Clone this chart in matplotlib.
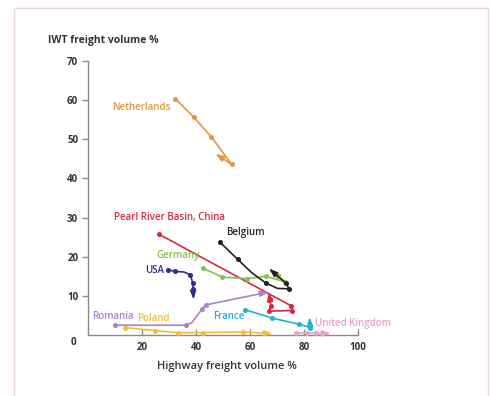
import matplotlib
matplotlib.use("Agg")
import matplotlib.pyplot as plt
from matplotlib.patches import Rectangle

plt.rcParams['font.family'] = ['Open Sans', 'DejaVu Sans']

# ---- data (x = highway freight volume %, y = IWT freight volume %) ----
nl_x = [32.3, 39.1, 45.7, 53.2]
nl_y = [60.4, 55.7, 50.6, 43.6]
nl_arrow = (47.2, 46.3)

cn_x = [26.4, 75.1, 75.7, 67.0, 67.7, 67.3]
cn_y = [25.7, 7.5, 6.25, 6.1, 7.5, 9.2]
cn_arrow = (67.0, 10.9)

be_x = [48.8, 55.5, 60.5, 65.8, 70.2, 74.5, 73.2]
be_y = [23.75, 19.3, 16.0, 13.3, 11.9, 11.8, 13.3]
be_marks = [0, 1, 3, 5, 6]
be_arrow = (67.0, 17.0)

de_x = [42.5, 49.7, 59.0, 65.8, 73.0]
de_y = [17.1, 14.8, 14.4, 15.0, 13.6]
de_arrow = (68.0, 16.3)

us_x = [29.5, 32.3, 35.5, 37.9, 38.8, 38.9]
us_y = [16.7, 16.25, 16.1, 15.4, 13.3, 11.7]
us_marks = [0, 1, 3, 4, 5]
us_arrow = (39.1, 9.0)

ro_x = [10.0, 36.4, 38.5, 40.5, 42.3, 43.7]
ro_y = [2.5, 2.5, 3.2, 5.0, 6.7, 7.7]
ro_marks = [0, 1, 4, 5]
ro_arrow = (67.0, 11.0)

pl_x = [13.8, 24.9, 33.2, 42.6, 57.5]
pl_y = [1.9, 1.1, 0.6, 0.6, 0.8]
pl_arrow = (68.5, 0.3)

fr_x = [58.0, 68.3, 78.2, 82.3]
fr_y = [6.5, 4.3, 2.75, 1.9]
fr_arrow = (82.0, 4.6)

uk_x = [77.0, 81.0, 84.5]
uk_y = [0.4, 0.4, 0.4]
uk_arrow = (90.0, 0.4)

x_ticks = [20, 40, 60, 80, 100]
y_ticks = [10, 20, 30, 40, 50, 60, 70]

# ---- colours ----
c_nl = '#E5953F'
c_cn = '#D9293F'
c_be = '#222222'
c_de = '#82C14E'
c_us = '#2E2F8E'
c_ro = '#A883C8'
c_pl = '#F3BC33'
c_fr = '#20B1CF'
c_uk = '#EA9FCB'
axis_col = '#8a8a8a'
txt_col = '#333333'

fig = plt.figure(figsize=(4.92, 3.96), dpi=100)
fig.patches.append(Rectangle((14/492, -0.05), (488-14)/492, 1.05 - 8/396,
                             transform=fig.transFigure, fill=False,
                             edgecolor='#ecd6d6', linewidth=1.0))
ax = fig.add_axes([88/492, (396-335)/396, 270/492, 274/396])
ax.set_xlim(0, 100)
ax.set_ylim(0, 70)
ax.patch.set_alpha(0)

for s in ['top', 'right']:
    ax.spines[s].set_visible(False)
for s in ['left', 'bottom']:
    ax.spines[s].set_color(axis_col)
    ax.spines[s].set_linewidth(1.0)

ax.set_xticks(x_ticks)
ax.set_yticks(y_ticks)
ax.tick_params(axis='x', direction='in', length=4, width=1, color=axis_col,
               labelsize=7, labelcolor=txt_col, pad=5)
ax.tick_params(axis='y', direction='out', length=4, width=1, color=axis_col,
               labelsize=7, labelcolor=txt_col, pad=3)
for lab in ax.get_xticklabels() + ax.get_yticklabels():
    lab.set_fontweight('bold')
ax.text(-4.5, -2.0, '0', ha='right', va='center', fontsize=7,
        fontweight='bold', color=txt_col, clip_on=False)


def series(xs, ys, col, arrow, marks=None):
    ax.plot(xs, ys, color=col, lw=1.2, marker='o', ms=2.6,
            markevery=marks, clip_on=False, zorder=3)
    ax.annotate('', xy=arrow, xytext=(xs[-1], ys[-1]),
                arrowprops=dict(arrowstyle='-|>,head_length=0.5,head_width=0.17',
                                color=col, lw=1.2, shrinkA=0, shrinkB=0),
                annotation_clip=False, zorder=4)


series(nl_x, nl_y, c_nl, nl_arrow)
series(ro_x, ro_y, c_ro, ro_arrow, ro_marks)
series(pl_x, pl_y, c_pl, pl_arrow)
series(uk_x, uk_y, c_uk, uk_arrow)
series(fr_x, fr_y, c_fr, fr_arrow)
series(cn_x, cn_y, c_cn, cn_arrow)
series(de_x, de_y, c_de, de_arrow)
series(be_x, be_y, c_be, be_arrow, be_marks)
series(us_x, us_y, c_us, us_arrow, us_marks)

lab_kw = dict(fontsize=7, fontweight='semibold')
ax.text(30.5, 58.0, 'Netherlands', color=c_nl, ha='right', va='center', **lab_kw)
ax.text(9.5, 30.0, 'Pearl River Basin, China', color=c_cn, ha='left', va='center', **lab_kw)
ax.text(51.0, 26.2, 'Belgium', color=c_be, ha='left', va='center', **lab_kw)
ax.text(25.5, 20.2, 'Germany', color=c_de, ha='left', va='center', **lab_kw)
ax.text(21.0, 16.5, 'USA', color=c_us, ha='left', va='center', **lab_kw)
ax.text(1.5, 4.8, 'Romania', color=c_ro, ha='left', va='center', **lab_kw)
ax.text(18.3, 4.3, 'Poland', color=c_pl, ha='left', va='center', **lab_kw)
ax.text(46.5, 4.8, 'France', color=c_fr, ha='left', va='center', **lab_kw)
ax.text(84.0, 3.0, 'United Kingdom', color=c_uk, ha='left', va='center', **lab_kw)

fig.text(48/492, 1 - 40/396, 'IWT freight volume %', ha='left', va='center',
         fontsize=7.5, fontweight='bold', color=txt_col)
fig.text(227/492, 1 - 367/396, 'Highway freight volume %', ha='center', va='center',
         fontsize=8, fontweight='semibold', color=txt_col)

fig.savefig('out.png', dpi=100)
